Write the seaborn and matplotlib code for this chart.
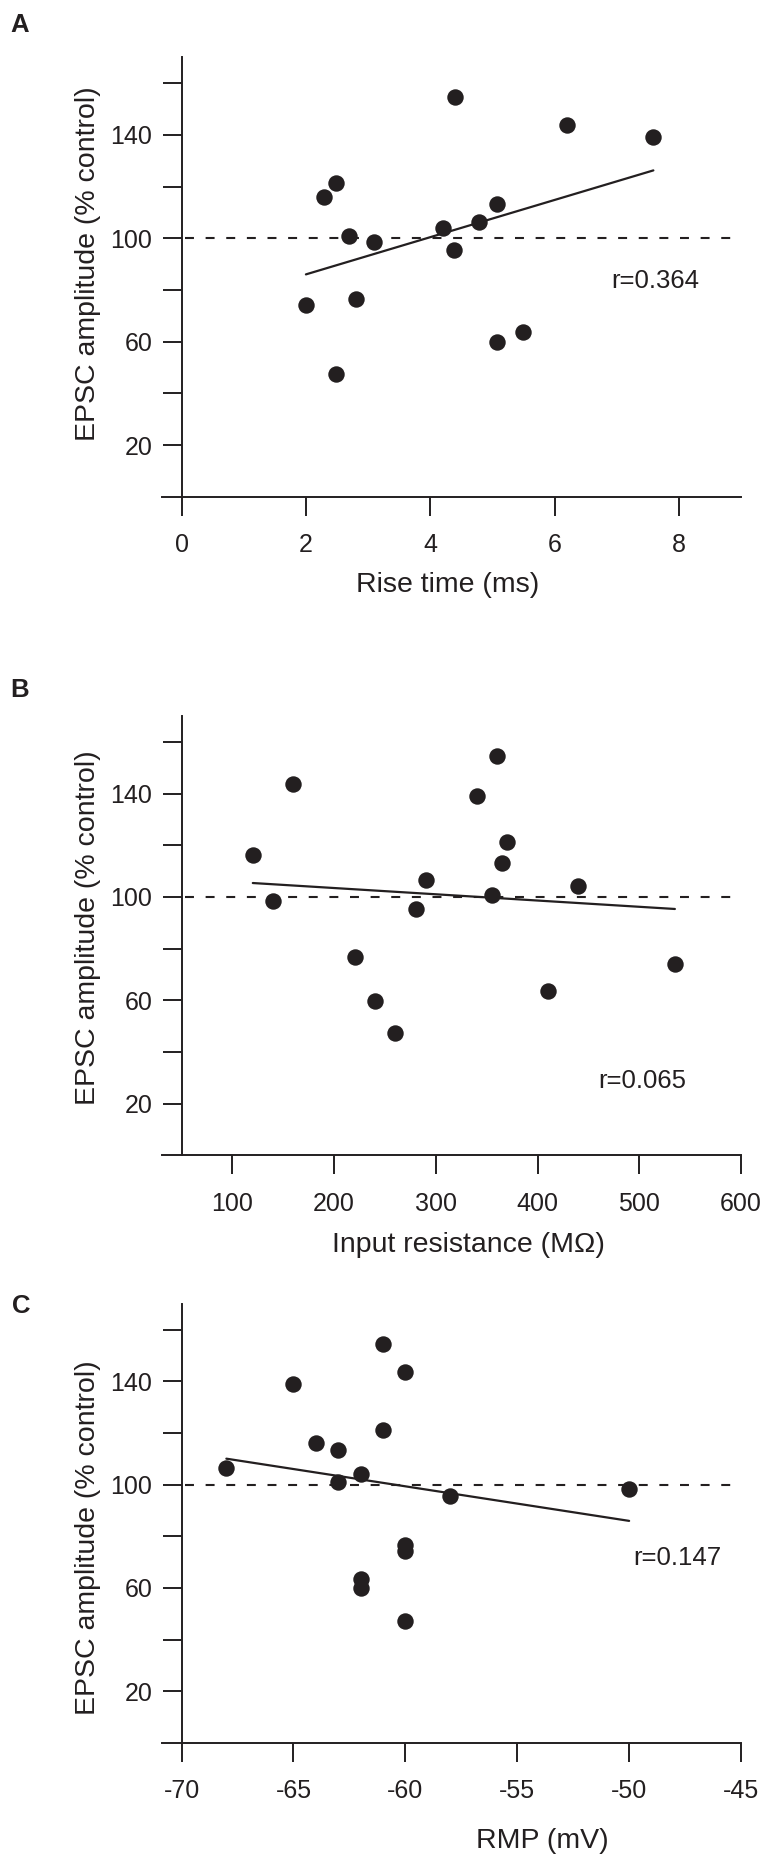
import numpy as np
import pandas as pd
import matplotlib
matplotlib.use('Agg')
import matplotlib.pyplot as plt
import seaborn as sns
from matplotlib.ticker import FuncFormatter

sns.set_style('ticks')
plt.rcParams['font.family'] = ['Liberation Sans', 'DejaVu Sans']
plt.rcParams['axes.unicode_minus'] = False

# EPSC amplitude (% control) per cell, same cells in all three panels
amplitude = [154.5, 143.7, 139.1, 121.3, 116.1, 113.2, 106.4, 104.1,
             100.9, 98.4, 95.4, 76.6, 74.2, 63.6, 59.9, 47.3]
rise_time = [4.4, 6.2, 7.59, 2.49, 2.29, 5.08, 4.79, 4.2,
             2.7, 3.1, 4.39, 2.8, 2.0, 5.49, 5.08, 2.49]
input_resistance = [360, 160, 340, 370, 120, 365, 290, 440,
                    355, 140, 280, 220, 535, 410, 240, 260]
rmp = [-61, -60, -65, -61, -64, -63, -68, -62,
       -63, -50, -58, -60, -60, -62, -62, -60]

r_labels = ['r=0.364', 'r=0.065', 'r=0.147']
x_labels = ['Rise time (ms)', 'Input resistance (M\u03a9)', 'RMP (mV)']
x_ticks = [[0, 2, 4, 6, 8],
           [100, 200, 300, 400, 500, 600],
           [-70, -65, -60, -55, -50, -45]]
y_ticks = [20, 40, 60, 80, 100, 120, 140, 160]
y_labelled = [20, 60, 100, 140]

df = pd.DataFrame({'amplitude': amplitude, 'rise': rise_time,
                   'rin': input_resistance, 'rmp': rmp})

ink = '#231f20'
W, H = 763, 1854

# layout per panel (pixel / data positions of the decorations)
panels = [
    dict(letter='A', col='rise', x0=0, x1=9, bottom=496.7, letter_y=31.5, letter_x=10,
         r_xy=(7.62, 80.7), xlab=(0.494, -0.171), ylab_y=0.530),
    dict(letter='B', col='rin', x0=50, x1=600, bottom=1155.4, letter_y=697, letter_x=10,
         r_xy=(503, 26.2), xlab=(0.530, -0.174), ylab_y=0.519),
    dict(letter='C', col='rmp', x0=-70, x1=-45, bottom=1743, letter_y=1313, letter_x=12,
         r_xy=(-47.84, 69.0), xlab=(0.656, -0.1925), ylab_y=0.468),
]

fig = plt.figure(figsize=(W / 100, H / 100), dpi=100)

for i, p in enumerate(panels):
    ax = fig.add_axes([162 / W, 1 - p['bottom'] / H, 579 / W, 439.3 / H])
    x0, x1 = p['x0'], p['x1']
    ax.set_xlim(x0 - (x1 - x0) * 19.6 / 559.4, x1)
    ax.set_ylim(0, 170)

    ax.axhline(100, xmin=0.04, xmax=0.987, color=ink, lw=1.5,
               ls=(0, (4.3, 5.6)), zorder=1)
    sns.regplot(data=df, x=p['col'], y='amplitude', ax=ax, ci=None, truncate=True,
                scatter_kws=dict(s=140, color=ink, linewidths=0, alpha=1, zorder=3),
                line_kws=dict(color=ink, lw=1.6, zorder=2))

    ax.spines[['top', 'right']].set_visible(False)
    ax.spines['left'].set_position(('data', x0))
    for s in ['left', 'bottom']:
        ax.spines[s].set_linewidth(1.4)
        ax.spines[s].set_color(ink)

    ax.set_yticks(y_ticks)
    ax.yaxis.set_major_formatter(FuncFormatter(
        lambda v, pos: f'{v:.0f}' if round(v) in y_labelled else ''))
    ax.set_xticks(x_ticks[i])
    ax.tick_params(direction='out', length=14, width=1.4, color=ink,
                   labelcolor=ink, labelsize=18)
    ax.tick_params(axis='x', pad=12)
    ax.tick_params(axis='y', pad=7)

    ax.set_xlabel(x_labels[i], fontsize=20.5, color=ink)
    ax.xaxis.set_label_coords(*p['xlab'])
    ax.set_ylabel('EPSC amplitude (% control)', fontsize=20.5, color=ink)
    ax.yaxis.set_label_coords(-0.106, p['ylab_y'])

    ax.text(p['r_xy'][0], p['r_xy'][1], r_labels[i], fontsize=18.5, color=ink,
            ha='center', va='baseline')
    fig.text(p['letter_x'] / W, 1 - p['letter_y'] / H, p['letter'], fontsize=18.5,
             fontweight='bold', color=ink, va='baseline', ha='left')

fig.savefig('out.png', dpi=100)
